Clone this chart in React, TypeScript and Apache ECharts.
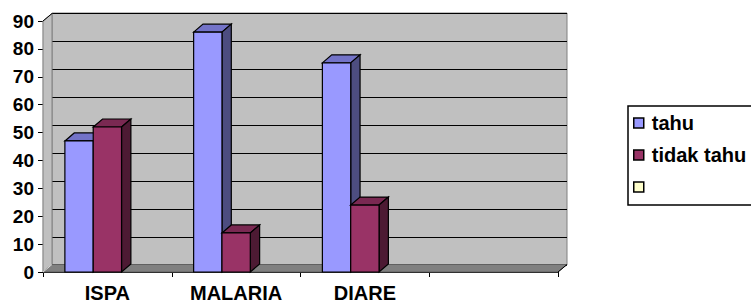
import React, { useEffect, useRef } from "react";
import * as echarts from "echarts";

const categories = ["ISPA", "MALARIA", "DIARE", ""];
const tahu = [47, 86, 75];
const tidakTahu = [52, 14, 24];
const seriesNames = ["tahu", "tidak tahu", " "];
const yMin = 0;
const yMax = 90;
const yInterval = 10;

const FONT = "'Liberation Sans', Arial, sans-serif";

type Face = { front: string; top: string; side: string };
const tahuColors: Face = { front: "#9999FF", top: "#7373C8", side: "#4D4D80" };
const tidakColors: Face = { front: "#993366", top: "#7A2952", side: "#4D1A33" };

function makeBarRenderer(colors: Face, offsetFactor: number) {
  return (params: any, api: any) => {
    const idx = api.value(0);
    const val = api.value(1);
    const [cx, yTop] = api.coord([idx, val]);
    const y0 = api.coord([idx, 0])[1];
    const band = api.size([1, 0])[0];
    const w = band * 0.22;
    const x0 = cx + offsetFactor * w;
    const dx = w * 0.33;
    const dy = -8;
    return {
      type: "group",
      children: [
        {
          type: "polygon",
          shape: { points: [[x0, yTop], [x0 + dx, yTop + dy], [x0 + w + dx, yTop + dy], [x0 + w, yTop]] },
          style: { fill: colors.top, stroke: "#000", lineWidth: 1.2 },
        },
        {
          type: "polygon",
          shape: { points: [[x0 + w, yTop], [x0 + w + dx, yTop + dy], [x0 + w + dx, y0 + dy], [x0 + w, y0]] },
          style: { fill: colors.side, stroke: "#000", lineWidth: 1.2 },
        },
        {
          type: "rect",
          shape: { x: x0, y: yTop, width: w, height: y0 - yTop },
          style: { fill: colors.front, stroke: "#000", lineWidth: 1.2 },
        },
      ],
    };
  };
}

function renderWalls(params: any) {
  const cs = params.coordSys;
  const x = cs.x;
  const y = cs.y;
  const w = cs.width;
  const h = cs.height;
  const dx = 9;
  const dy = -7.5;
  return {
    type: "group",
    children: [
      {
        type: "polygon",
        shape: { points: [[x, y + h], [x, y], [x + dx, y + dy], [x + dx, y + h + dy]] },
        style: { fill: "#C0C0C0", stroke: "#808080", lineWidth: 1 },
      },
      {
        type: "polygon",
        shape: { points: [[x, y + h], [x + w, y + h], [x + w + dx, y + h + dy], [x + dx, y + h + dy]] },
        style: { fill: "#808080", stroke: "#606060", lineWidth: 1 },
      },
      {
        type: "line",
        shape: { x1: x, y1: y + h, x2: x + dx, y2: y + h + dy },
        style: { stroke: "#E0E0E0", lineWidth: 1 },
      },
      {
        type: "line",
        shape: { x1: x + w, y1: y + h, x2: x + w + dx, y2: y + h + dy },
        style: { stroke: "#000", lineWidth: 1 },
      },
      {
        type: "line",
        shape: { x1: x, y1: y, x2: x + dx, y2: y + dy },
        style: { stroke: "#000", lineWidth: 1 },
      },
    ],
  };
}

export default function App() {
  const ref = useRef<HTMLDivElement>(null);
  useEffect(() => {
    if (!ref.current) return;
    const chart = echarts.init(ref.current, undefined, { renderer: "svg" });
    chart.setOption({
      animation: false,
      backgroundColor: "#FFFFFF",
      textStyle: { fontFamily: FONT },
      legend: {
        data: seriesNames,
        orient: "vertical",
        left: 628,
        top: 106,
        padding: [7, 200, 8, 5],
        itemGap: 12,
        itemWidth: 16,
        itemHeight: 10,
        icon: "path://M0,0H10V10H0Z",
        borderColor: "#000",
        borderWidth: 1.5,
        itemStyle: { borderColor: "#000", borderWidth: 1.5 },
        textStyle: { fontFamily: FONT, fontWeight: "bold", fontSize: 20, color: "#000", lineHeight: 20 },
      },
      grid: [
        {
          left: 52,
          top: 13,
          width: 515,
          height: 252,
          show: true,
          backgroundColor: "#C0C0C0",
          borderColor: "#808080",
          borderWidth: 1,
        },
        { left: 43, top: 21, width: 515, height: 251 },
      ],
      xAxis: [
        { type: "category", gridIndex: 0, data: categories, show: false },
        {
          type: "category",
          gridIndex: 1,
          data: categories,
          axisLine: { show: true, lineStyle: { color: "#000", width: 1.2 } },
          axisTick: { show: true, length: 5, lineStyle: { color: "#000" } },
          axisLabel: { margin: 11, fontFamily: FONT, fontWeight: "bold", fontSize: 20, color: "#000" },
          splitLine: { show: false },
        },
      ],
      yAxis: [
        {
          type: "value",
          gridIndex: 0,
          min: yMin,
          max: yMax,
          interval: yInterval,
          axisLine: { show: false },
          axisTick: { show: false },
          axisLabel: { show: false },
          splitLine: { show: true, lineStyle: { color: "#000", width: 1.2 } },
        },
        {
          type: "value",
          gridIndex: 1,
          min: yMin,
          max: yMax,
          interval: yInterval,
          axisLine: { show: true, lineStyle: { color: "#000", width: 1.2 } },
          axisTick: { show: true, length: 5, lineStyle: { color: "#000" } },
          axisLabel: { margin: 9, fontFamily: FONT, fontWeight: "bold", fontSize: 19, color: "#000" },
          splitLine: { show: false },
        },
      ],
      series: [
        {
          type: "custom",
          name: "walls",
          xAxisIndex: 1,
          yAxisIndex: 1,
          z: 1,
          silent: true,
          renderItem: renderWalls,
          data: [[0, 0]],
        },
        {
          type: "custom",
          name: seriesNames[0],
          xAxisIndex: 1,
          yAxisIndex: 1,
          z: 3,
          itemStyle: { color: tahuColors.front },
          renderItem: makeBarRenderer(tahuColors, -1.5),
          data: tahu.map((v, i) => [i, v]),
        },
        {
          type: "custom",
          name: seriesNames[1],
          xAxisIndex: 1,
          yAxisIndex: 1,
          z: 4,
          itemStyle: { color: tidakColors.front },
          renderItem: makeBarRenderer(tidakColors, -0.5),
          data: tidakTahu.map((v, i) => [i, v]),
        },
        {
          type: "bar",
          name: seriesNames[2],
          xAxisIndex: 1,
          yAxisIndex: 1,
          itemStyle: { color: "#FFFFCC" },
          data: [],
        },
      ],
    });
    return () => chart.dispose();
  }, []);
  return <div ref={ref} style={{ width: 751, height: 306, position: "absolute", left: 0, top: 0 }} />;
}
